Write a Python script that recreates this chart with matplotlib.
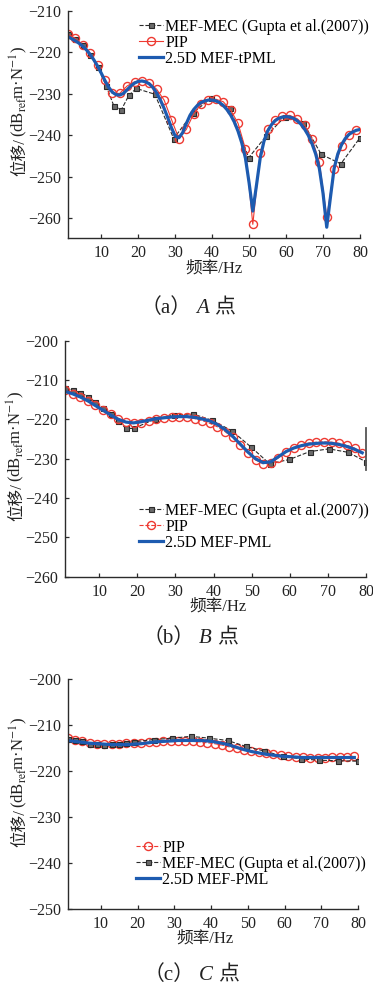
import numpy as np
import matplotlib
matplotlib.use("Agg")
import matplotlib.pyplot as plt
from matplotlib.transforms import IdentityTransform

plt.rcParams["font.family"] = ["Liberation Serif", "Noto Sans CJK SC"]
plt.rcParams["mathtext.fontset"] = "stix"
plt.rcParams["axes.unicode_minus"] = True

W, H = 373, 988

# ── Point A ────────────────────────────────────────────────────────────────
A_F_LINE = np.arange(1, 81)
A_LINE = [
    -216.2, -216.7, -217.2, -217.8, -218.5, -219.4, -220.5, -221.8, -223.3, -225.0,
    -226.8, -228.4, -229.6, -230.2, -230.3, -229.9, -229.0, -228.1, -227.4, -227.0,
    -226.9, -227.1, -227.6, -228.5, -229.8, -231.5, -233.5, -235.8, -238.2, -240.2,
    -240.6, -239.4, -237.2, -235.2, -233.8, -232.8, -232.1, -231.7, -231.5, -231.5,
    -231.7, -232.1, -232.8, -233.8, -235.1, -236.8, -239.0, -241.8, -245.5, -251.5,
    -258.3, -252.0, -245.5, -241.5, -239.0, -237.5, -236.5, -235.9, -235.6, -235.5,
    -235.6, -235.9, -236.5, -237.3, -238.5, -240.0, -242.0, -244.5, -248.0, -254.0,
    -262.2, -255.0, -248.0, -244.5, -242.3, -240.8, -239.8, -239.2, -238.8, -238.6,
]
A_F_PIP = np.arange(1, 80, 2)
A_PIP = [
    -215.6, -216.6, -218.2, -220.2, -223.1, -226.7, -229.9, -229.9, -228.1, -227.1,
    -226.8, -227.3, -228.9, -231.5, -236.2, -240.8, -238.6, -234.8, -232.5, -231.5,
    -231.3, -231.9, -233.9, -237.1, -243.3, -261.5, -244.4, -238.6, -236.2, -235.4,
    -235.2, -236.0, -237.6, -240.8, -246.5, -259.8, -248.1, -242.6, -240.0, -238.8,
]
A_F_MEC = [1, 3, 5, 7, 9, 11.3, 13.4, 15.4, 17.5, 19.5, 24.5, 29.6, 34.7, 39.6,
           44.8, 49.9, 54.6, 59.6, 64.7, 69.5, 74.8, 80]
A_MEC = [-215.6, -216.8, -218.3, -220.6, -223.5, -228.0, -232.9, -233.9, -230.3,
         -228.7, -230.1, -240.8, -234.7, -231.1, -233.5, -245.4, -240.2, -235.6,
         -237.0, -244.6, -246.9, -240.6]

# ── Point B ────────────────────────────────────────────────────────────────
B_F = np.arange(1, 80, 2)
B_LINE = [
    -212.9, -213.5, -214.3, -215.3, -216.5, -217.7, -218.9, -220.0, -220.7, -220.9,
    -220.6, -220.2, -219.8, -219.6, -219.4, -219.3, -219.3, -219.5, -219.9, -220.4,
    -221.3, -222.6, -224.3, -226.3, -228.3, -230.0, -231.0, -230.8, -229.5, -228.2,
    -227.3, -226.7, -226.3, -226.1, -226.0, -226.1, -226.4, -226.9, -227.6, -228.5,
]
B_PIP = [
    -212.5, -213.6, -214.4, -215.3, -216.3, -217.5, -218.7, -219.8, -220.6, -220.9,
    -220.8, -220.4, -220.0, -219.6, -219.3, -219.3, -219.5, -219.8, -220.3, -221.0,
    -221.9, -223.1, -224.6, -226.5, -228.5, -230.3, -231.3, -231.0, -229.8, -228.3,
    -227.2, -226.5, -226.0, -225.8, -225.7, -225.8, -226.1, -226.6, -227.3, -228.6,
]
B_F_MEC = [1, 3, 5, 7, 9, 11, 13, 15, 17, 19, 24.5, 29.5, 34.5, 39.5, 44.8, 49.9,
           54.7, 59.9, 65.2, 70.3, 75.4, 80]
B_MEC = [-212.0, -212.5, -213.2, -214.2, -215.6, -217.2, -218.7, -220.5, -222.3,
         -222.3, -220.0, -218.9, -218.6, -220.2, -222.9, -227.1, -231.3, -230.2,
         -228.2, -227.5, -228.4, -230.8]
B_EDGE_F = [80, 80]
B_EDGE = [-222.3, -232.9]

# ── Point C ────────────────────────────────────────────────────────────────
C_F = np.arange(1, 80, 2)
C_LINE = [
    -213.3, -213.5, -213.7, -213.9, -214.0, -214.1, -214.2, -214.2, -214.2, -214.1,
    -214.0, -213.8, -213.6, -213.5, -213.4, -213.3, -213.3, -213.3, -213.3, -213.4,
    -213.6, -213.9, -214.3, -214.8, -215.3, -215.7, -216.0, -216.3, -216.5, -216.7,
    -216.8, -216.9, -217.0, -217.0, -217.0, -217.0, -217.0, -217.0, -217.0, -217.0,
]
C_PIP = [
    -212.8, -213.1, -213.5, -213.8, -214.0, -214.1, -214.1, -214.0, -213.9, -213.8,
    -213.8, -213.7, -213.6, -213.5, -213.5, -213.5, -213.5, -213.5, -213.6, -213.8,
    -214.0, -214.3, -214.7, -215.0, -215.3, -215.6, -215.9, -216.1, -216.3, -216.5,
    -216.7, -216.8, -216.9, -217.0, -217.0, -217.0, -216.9, -216.8, -216.8, -216.7,
]
C_F_MEC = [1, 3, 5, 7, 9, 11, 13, 15, 17, 19, 24.5, 29.5, 34.5, 39.5, 44.5, 49.5,
           54.5, 59.5, 64.5, 69.5, 74.5, 80]
C_MEC = [-212.9, -213.1, -213.4, -214.0, -214.0, -214.3, -214.0, -214.0, -213.8,
         -213.6, -213.1, -212.8, -212.4, -212.8, -213.3, -214.6, -215.6, -216.7,
         -217.3, -217.6, -217.7, -217.8]

X_TICKS = [10, 20, 30, 40, 50, 60, 70, 80]

BLUE = "#1d5bb0"
RED = "#ee3a32"
DARK = "#2b2b2b"
FS = 11.5

LBL_MEC = "MEF-MEC (Gupta et al.(2007))"


def px_axes(fig, left, top, right, bottom):
    return fig.add_axes([left / W, 1 - bottom / H, (right - left) / W,
                         (bottom - top) / H])


def style_axes(ax, ylim, yticks):
    ax.set_xlim(1, 80)
    ax.set_ylim(*ylim)
    ax.set_xticks(X_TICKS)
    ax.set_yticks(yticks)
    ax.spines[["top", "right"]].set_visible(False)
    for s in ("left", "bottom"):
        ax.spines[s].set_linewidth(1.0)
        ax.spines[s].set_color(DARK)
    ax.tick_params(direction="in", length=3, width=0.9, colors=DARK,
                   labelsize=FS, labelcolor="#222222", pad=5)
    ax.patch.set_alpha(0)


def put_runs(fig, runs, x, y, vertical=False, center=False, pad=0.0):
    """Lay out text pieces with different fonts one after another (pixels)."""
    r = fig.canvas.get_renderer()
    rot = 90 if vertical else 0
    texts = [fig.text(0, 0, s, transform=IdentityTransform(), rotation=rot,
                      rotation_mode="anchor", ha="left", va="baseline",
                      color="#222222", **kw) for s, kw in runs]
    lens = []
    for t in texts:
        bb = t.get_window_extent(r)
        lens.append(bb.height if vertical else bb.width)
    total = sum(lens) + pad * (len(texts) - 1)
    pos = -total / 2 if center else 0.0
    yb = H - y
    for t, L in zip(texts, lens):
        t.set_position((x, yb + pos) if vertical else (x + pos, yb))
        pos += L + pad


def ylabel(fig, x, y):
    put_runs(fig, [("位移/", dict(fontsize=12)),
                   (r"(dB$_{\mathrm{ref}}$m·N$^{-1}$)",
                    dict(fontsize=12, family="Liberation Serif"))],
             x, y, vertical=True, pad=1.5)


def xlabel(fig, x, y):
    put_runs(fig, [("频率/Hz", dict(fontsize=12))], x, y, center=True)


def caption(fig, letter, point, x, y):
    put_runs(fig, [(f"（{letter}）", dict(fontsize=15)),
                   (point, dict(fontsize=15, style="italic",
                                family="Liberation Serif")),
                   ("点", dict(fontsize=15, family="Noto Sans CJK SC"))],
             x, y, center=True, pad=5)


def mec_line(ax, f, v):
    return ax.plot(f, v, "--", color=DARK, lw=0.8, marker="s", ms=3.6,
                   mfc="#6a6a6a", mec=DARK, mew=0.8, label=LBL_MEC)[0]


def pip_line(ax, f, v, ls):
    return ax.plot(f, v, ls, color=RED, lw=0.8, marker="o", ms=5.8,
                   mfc="none", mec=RED, mew=1.0, label="PIP")[0]


def blue_line(ax, f, v, label):
    return ax.plot(f, v, "-", color=BLUE, lw=2.3, label=label)[0]


def legend(fig, ax, handles, x, y):
    ax.legend(handles=handles, loc="upper left",
              bbox_to_anchor=(x / W, 1 - y / H), bbox_transform=fig.transFigure,
              frameon=False, borderpad=0, borderaxespad=0, fontsize=FS,
              handlelength=1.5, handletextpad=0.15, labelspacing=0.0)


fig = plt.figure(figsize=(W / 100, H / 100), dpi=100)

# ── (a) ────────────────────────────────────────────────────────────────────
ax = px_axes(fig, 68, 11, 360, 238)
h1 = mec_line(ax, A_F_MEC, A_MEC)
h2 = pip_line(ax, A_F_PIP, A_PIP, "-")
h3 = blue_line(ax, A_F_LINE, A_LINE, "2.5D MEF-tPML")
style_axes(ax, (-264.8, -210), range(-210, -261, -10))
legend(fig, ax, [h1, h2, h3], 139, 19)
ylabel(fig, 24, 176)
xlabel(fig, 214, 273)
caption(fig, "a", "A", 187.5, 313)

# ── (b) ────────────────────────────────────────────────────────────────────
ax = px_axes(fig, 65, 340.7, 366, 576.7)
h1 = mec_line(ax, B_F_MEC, B_MEC)
h2 = pip_line(ax, B_F, B_PIP, "--")
h3 = blue_line(ax, B_F, B_LINE, "2.5D MEF-PML")
ax.plot(B_EDGE_F, B_EDGE, color="#555555", lw=1.3, clip_on=False)
style_axes(ax, (-260, -200), range(-200, -261, -10))
legend(fig, ax, [h1, h2, h3], 139, 503)
ylabel(fig, 21, 521)
xlabel(fig, 218, 611)
caption(fig, "b", "B", 190, 643)

# ── (c) ────────────────────────────────────────────────────────────────────
ax = px_axes(fig, 67.7, 679.3, 358, 909.3)
h2 = pip_line(ax, C_F, C_PIP, "--")
h1 = mec_line(ax, C_F_MEC, C_MEC)
h3 = blue_line(ax, C_F, C_LINE, "2.5D MEF-PML")
style_axes(ax, (-250, -200), range(-200, -251, -10))
legend(fig, ax, [h2, h1, h3], 136, 840)
ylabel(fig, 24, 847)
xlabel(fig, 205, 943)
caption(fig, "c", "C", 191, 980)

fig.savefig("out.png", dpi=100)
